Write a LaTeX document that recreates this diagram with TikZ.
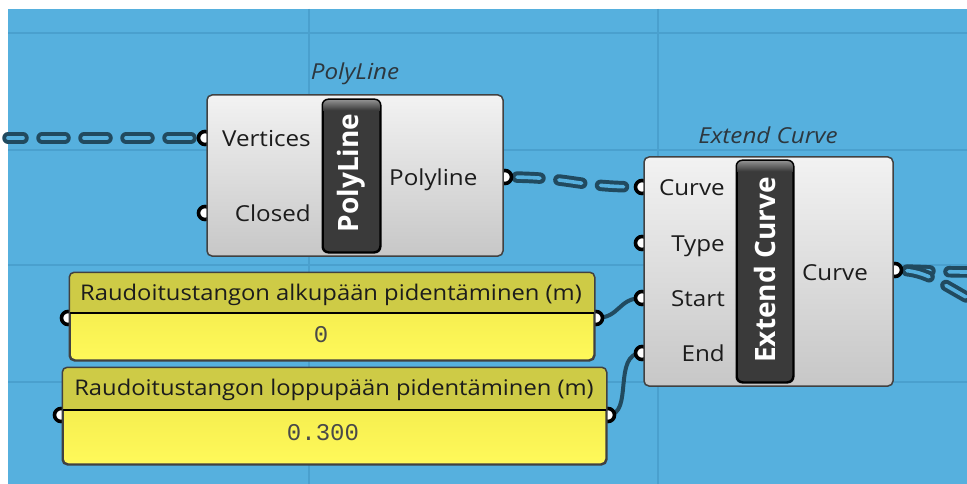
\documentclass[tikz,border=0pt]{standalone}
\usepackage{fontspec}
\setmainfont[FakeStretch=1.1]{Open Sans}
\newfontfamily\pillfont{Open Sans}
\newfontfamily\valfont{Liberation Mono}
\usetikzlibrary{calc}
\definecolor{bg}{RGB}{86,176,222}
\definecolor{gridc}{RGB}{74,160,206}
\definecolor{wirec}{RGB}{33,74,95}
\definecolor{boxedge}{RGB}{65,65,65}
\definecolor{pillc}{RGB}{58,58,58}
\definecolor{hdrc}{RGB}{206,203,70}
\definecolor{yelc}{RGB}{255,249,90}
\definecolor{yeltop}{RGB}{238,230,72}
\definecolor{titlec}{RGB}{45,55,62}
\definecolor{labc}{RGB}{28,28,28}
\tikzset{
  compbox/.style={draw=boxedge, line width=1.5pt, rounded corners=5pt, top color=white!95!black, bottom color=white!78!black, inner sep=0pt},
  pill/.style={draw=black, line width=1.5pt, rounded corners=6pt, fill=pillc, inner sep=0pt},
  sliderbox/.style={draw=boxedge, line width=1.5pt, rounded corners=5pt, top color=yeltop, bottom color=yelc, inner sep=0pt},
  grip/.style={circle, draw=black, line width=3.6pt, fill=white, minimum size=13pt, inner sep=0pt},
  wire/.style={line width=4pt, draw=wirec, line cap=round},
  listout/.style={line width=11.5pt, draw=wirec, line cap=round, dash pattern=on 23pt off 19pt, dash phase=28pt},
  listin/.style={line width=3.6pt, draw=bg, line cap=round, dash pattern=on 23pt off 19pt, dash phase=28pt},
  lab/.style={font=\fontsize{22}{26}\selectfont, text=labc, inner sep=0pt},
  ttl/.style={font=\fontsize{22}{26}\selectfont\itshape, text=titlec, inner sep=0pt},
  pilltxt/.style={font=\pillfont\bfseries\fontsize{28}{32}\selectfont, text=white, inner sep=0pt, rotate=90},
  sltxt/.style={font=\fontsize{21.6}{26}\selectfont, text=labc, inner sep=0pt},
  valtxt/.style={font=\valfont\fontsize{24}{28}\selectfont, text=labc!80!white, inner sep=0pt}
}
\begin{document}
\begin{tikzpicture}[x=1pt,y=-1pt]
\useasboundingbox (0,0) rectangle (967,484);
\fill[white] (0,0) rectangle (967,484);
\fill[bg] (8,9) rectangle (967,484);
% grid
\foreach \yy in {33,150,265,382} \draw[gridc, line width=2pt] (8,\yy) -- (967,\yy);
\foreach \xx in {309,658} \draw[gridc, line width=2pt] (\xx,9) -- (\xx,484);

% grip positions
\coordinate (wstart) at (8,138);
\coordinate (pV) at (205,138);
\coordinate (pC) at (205,213);
\coordinate (pPo) at (505,177);
\coordinate (eCu) at (642,187);
\coordinate (eTy) at (642,243);
\coordinate (eSt) at (642,298);
\coordinate (eEn) at (642,353);
\coordinate (eOut) at (895,270);
\coordinate (s1L) at (68,318);
\coordinate (s1R) at (596,318);
\coordinate (s2L) at (61,415);
\coordinate (s2R) at (608,415);
\coordinate (outA) at (967,272);
\coordinate (outB) at (975,302);

% wires
\draw[listout] (pV) -- (wstart);
\draw[listin] (pV) -- (wstart);
\draw[listout, dash phase=30pt] (pPo) .. controls (573,177) and (574,187) .. (eCu);
\draw[listin, dash phase=30pt] (pPo) .. controls (573,177) and (574,187) .. (eCu);
\draw[listout, dash phase=30pt] (eOut) .. controls (925,270) and (940,272) .. (outA);
\draw[listin, dash phase=30pt] (eOut) .. controls (925,270) and (940,272) .. (outA);
\draw[listout, dash phase=30pt] (eOut) .. controls (925,270) and (935,280) .. (outB);
\draw[listin, dash phase=30pt] (eOut) .. controls (925,270) and (935,280) .. (outB);
\draw[wire] (s1R) .. controls (620,318) and (618,298) .. (eSt);
\draw[wire] (s2R) .. controls (634,415) and (612,353) .. (eEn);

% grips
\foreach \g in {pV,pC,pPo,eCu,eTy,eSt,eEn,eOut,s1L,s1R,s2L,s2R}
  \node[grip] (g\g) at (\g) {};

% PolyLine component
\node[compbox, minimum width=296pt, minimum height=161pt] (poly) at (355,175.5) {};
\node[pill, minimum width=57pt, minimum height=152pt] (pillA) at (351.5,176) {};
\begin{scope}
  \clip[rounded corners=6pt] (pillA.north west) rectangle (pillA.south east);
  \fill[top color=white!58!black, bottom color=pillc] (pillA.north west) rectangle ($(pillA.north east)+(0,11)$);
\end{scope}
\draw[black, line width=1.5pt, rounded corners=6pt] (pillA.north west) rectangle (pillA.south east);
\node[pilltxt] (ptxt) at (351,173) {PolyLine};
\node[ttl] (ptitle) at (355,74) {PolyLine};
\node[lab, anchor=mid east] (lV) at (311,144) {Vertices};
\node[lab, anchor=mid east] (lC) at (311,219) {Closed};
\node[lab, anchor=mid west] (lPo) at (389,183) {Polyline};

% Extend Curve component
\node[compbox, minimum width=249pt, minimum height=229pt] (ext) at (768.5,271.5) {};
\node[pill, minimum width=56pt, minimum height=221pt] (pillB) at (765,271.5) {};
\begin{scope}
  \clip[rounded corners=6pt] (pillB.north west) rectangle (pillB.south east);
  \fill[top color=white!58!black, bottom color=pillc] (pillB.north west) rectangle ($(pillB.north east)+(0,11)$);
\end{scope}
\draw[black, line width=1.5pt, rounded corners=6pt] (pillB.north west) rectangle (pillB.south east);
\node[pilltxt] (etxt) at (765,270) {Extend Curve};
\node[ttl] (etitle) at (768,135) {Extend Curve};
\node[lab, anchor=mid east] (lCu) at (725,193) {Curve};
\node[lab, anchor=mid east] (lTy) at (725,249) {Type};
\node[lab, anchor=mid east] (lSt) at (725,304) {Start};
\node[lab, anchor=mid east] (lEn) at (725,359) {End};
\node[lab, anchor=mid west] (lOut) at (802,278) {Curve};

% Slider 1
\node[sliderbox, minimum width=524pt, minimum height=87pt] (s1) at (332,316.5) {};
\begin{scope}
  \clip[rounded corners=5pt] (s1.north west) rectangle (s1.south east);
  \fill[hdrc] (s1.north west) rectangle (594,313);
\end{scope}
\draw[black, line width=1.5pt] (70,313) -- (594,313);
\draw[boxedge, line width=1.5pt, rounded corners=5pt] (s1.north west) rectangle (s1.south east);
\node[sltxt] (s1t) at (331,295) {Raudoitustangon alkupään pidentäminen (m)};
\node[valtxt] (s1v) at (321,335) {0};

% Slider 2
\node[sliderbox, minimum width=543pt, minimum height=96pt] (s2) at (334.5,416) {};
\begin{scope}
  \clip[rounded corners=5pt] (s2.north west) rectangle (s2.south east);
  \fill[hdrc] (s2.north west) rectangle (606,410);
\end{scope}
\draw[black, line width=1.5pt] (63,410) -- (606,410);
\draw[boxedge, line width=1.5pt, rounded corners=5pt] (s2.north west) rectangle (s2.south east);
\node[sltxt] (s2t) at (334,390) {Raudoitustangon loppupään pidentäminen (m)};
\node[valtxt] (s2v) at (323,433) {0.300};
\end{tikzpicture}
\end{document}
